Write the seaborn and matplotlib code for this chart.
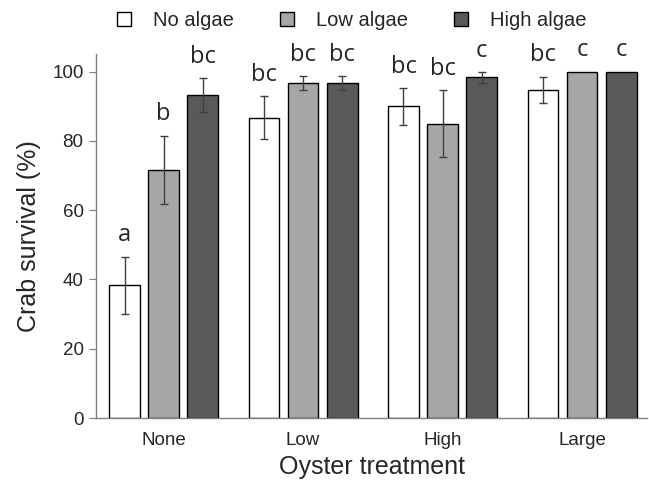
import pandas as pd
import numpy as np
import matplotlib
matplotlib.use("Agg")
import matplotlib.pyplot as plt
import seaborn as sns

# Data
oyster = ["None", "Low", "High", "Large"]
algae = ["No algae", "Low algae", "High algae"]
survival = {
    "No algae":   [38.3, 86.7, 90.0, 94.7],
    "Low algae":  [71.7, 96.7, 85.0, 100.0],
    "High algae": [93.3, 96.7, 98.3, 100.0],
}
sem = {
    "No algae":   [8.3, 6.2, 5.3, 3.8],
    "Low algae":  [9.8, 2.0, 9.7, 0.0],
    "High algae": [4.9, 2.0, 1.6, 0.0],
}
letters = {
    "No algae":   ["a", "bc", "bc", "bc"],
    "Low algae":  ["b", "bc", "bc", "c"],
    "High algae": ["bc", "bc", "c", "c"],
}
colors = ["#ffffff", "#a6a6a6", "#595959"]

rows = []
for a in algae:
    for i, o in enumerate(oyster):
        rows.append({"Oyster": o, "Algae": a, "Survival": survival[a][i]})
df = pd.DataFrame(rows)

sns.set_style("white")
plt.rcParams["font.family"] = ["Liberation Sans", "DejaVu Sans"]

fig = plt.figure(figsize=(6.49, 4.8), dpi=100)
ax = fig.add_axes([0.148, 0.129, 0.849, 0.758])

sns.barplot(data=df, x="Oyster", y="Survival", hue="Algae", order=oyster,
            hue_order=algae, palette=colors, width=0.84, gap=0.21,
            edgecolor="black", linewidth=1.0, errorbar=None, ax=ax,
            legend=True)

# error bars and significance letters on each bar
for j, a in enumerate(algae):
    cont = ax.containers[j]
    for i, bar in enumerate(cont):
        x = bar.get_x() + bar.get_width() / 2
        y = bar.get_height()
        e = sem[a][i]
        if e > 0:
            ax.errorbar(x, y, yerr=e, color="#404040", capsize=3,
                        elinewidth=1, capthick=1)
        ax.annotate(letters[a][i], (x, y + e), xytext=(0, 11),
                    textcoords="offset points", ha="center", va="baseline",
                    fontsize=17, family=["Open Sans", "DejaVu Sans"])

ax.set_ylim(0, 105)
ax.set_xlim(-0.484, 3.466)
ax.set_yticks([0, 20, 40, 60, 80, 100])
ax.tick_params(axis="y", direction="out", length=5, color="#808080",
               labelsize=13.5, left=True, pad=4)
ax.tick_params(axis="x", length=0, labelsize=13.5, pad=10)
for s in ["top", "right"]:
    ax.spines[s].set_visible(False)
for s in ["left", "bottom"]:
    ax.spines[s].set_color("#808080")
    ax.spines[s].set_linewidth(1)
ax.set_ylabel("Crab survival (%)", fontsize=18, labelpad=8)
ax.set_xlabel("Oyster treatment", fontsize=18, labelpad=4)

handles, labels = ax.get_legend_handles_labels()
ax.get_legend().remove()
fig.legend(handles, labels, loc="center", bbox_to_anchor=(0.542, 0.958),
           ncol=3, frameon=False, fontsize=14.5, handlelength=0.68,
           handleheight=0.68, columnspacing=2.3, handletextpad=1.1)

fig.savefig("out.png", dpi=100)
